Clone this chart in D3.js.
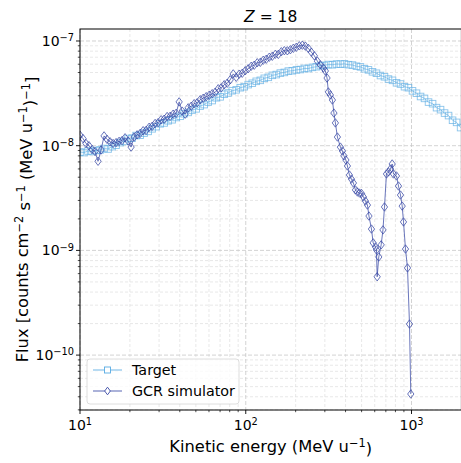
<!DOCTYPE html>
<html>
<head>
<meta charset="utf-8">
<script src="https://cdn.jsdelivr.net/npm/d3@7"></script>
<style>
  body { margin: 0; background: #fff; }
  text { font-family: "DejaVu Sans", sans-serif; fill: #000; }
</style>
</head>
<body>
<div id="chart"></div>
<script>
// energies in MeV/u, fluxes in counts cm^-2 s^-1 (MeV/u)^-1
let targetEnergy = [10.0, 10.57, 11.17, 11.82, 12.50, 13.21, 13.96, 14.77, 15.61, 16.50,
  17.45, 18.45, 19.50, 20.62, 21.80, 23.05, 24.37, 25.76, 27.23, 28.79,
  30.44, 32.18, 34.02, 35.97, 38.03, 40.21, 42.50, 44.94, 47.51, 50.22,
  53.10, 56.14, 59.35, 62.75, 66.34, 70.14, 74.15, 78.39, 82.88, 87.62,
  92.64, 97.95, 103.5, 109.5, 115.7, 122.4, 129.4, 136.8, 144.6, 152.9,
  161.6, 170.9, 180.7, 191.0, 202.0, 213.5, 225.7, 238.7, 252.3, 266.7,
  282.0, 298.2, 315.2, 333.3, 352.4, 372.6, 393.9, 416.4, 440.3, 465.4,
  492.1, 520.2, 549.9, 581.4, 614.6, 649.9, 687.0, 726.3, 767.9, 811.8,
  858.2, 907.3, 959.2, 1014, 1072, 1134, 1198, 1267, 1340, 1416,
  1497, 1583, 1673, 1769, 1871, 1978];
let targetFlux = [8.7e-9, 8.6e-9, 8.9e-9, 8.8e-9, 9.0e-9, 9.1e-9, 9.4e-9, 9.3e-9, 9.8e-9, 1.01e-8,
  1.07e-8, 1.10e-8, 1.17e-8, 1.18e-8, 1.25e-8, 1.26e-8, 1.32e-8, 1.37e-8, 1.45e-8, 1.52e-8,
  1.62e-8, 1.65e-8, 1.73e-8, 1.77e-8, 1.86e-8, 1.91e-8, 2.02e-8, 2.08e-8, 2.19e-8, 2.25e-8,
  2.39e-8, 2.47e-8, 2.61e-8, 2.70e-8, 2.87e-8, 2.93e-8, 3.10e-8, 3.19e-8, 3.35e-8, 3.42e-8,
  3.58e-8, 3.66e-8, 3.83e-8, 3.95e-8, 4.12e-8, 4.21e-8, 4.40e-8, 4.50e-8, 4.70e-8, 4.78e-8,
  4.94e-8, 5.01e-8, 5.16e-8, 5.20e-8, 5.30e-8, 5.34e-8, 5.47e-8, 5.46e-8, 5.60e-8, 5.68e-8,
  5.82e-8, 5.84e-8, 5.96e-8, 5.93e-8, 6.03e-8, 6.00e-8, 6.05e-8, 5.94e-8, 5.89e-8, 5.74e-8,
  5.66e-8, 5.43e-8, 5.30e-8, 5.08e-8, 4.92e-8, 4.68e-8, 4.55e-8, 4.33e-8, 4.21e-8, 3.99e-8,
  3.88e-8, 3.66e-8, 3.58e-8, 3.34e-8, 3.17e-8, 2.95e-8, 2.83e-8, 2.61e-8, 2.52e-8, 2.31e-8,
  2.21e-8, 2.05e-8, 1.94e-8, 1.75e-8, 1.67e-8, 1.49e-8];

let gcrEnergy = [10.00, 10.43, 10.87, 11.33, 11.82, 12.32, 12.85, 13.40, 13.97, 14.56,
  15.18, 15.83, 16.50, 17.21, 17.94, 18.70, 19.50, 20.33, 21.20, 22.10,
  23.04, 24.03, 25.05, 26.12, 27.23, 28.39, 29.60, 30.86, 32.18, 33.55,
  34.98, 36.47, 38.02, 39.64, 41.33, 43.09, 44.93, 46.85, 48.84, 50.92,
  53.10, 55.36, 57.72, 60.18, 62.74, 65.42, 68.20, 71.11, 74.14, 77.30,
  80.59, 84.03, 87.61, 91.34, 95.24, 99.30, 103.5, 107.9, 112.5, 117.3,
  122.4, 127.6, 133.0, 138.7, 144.6, 150.8, 157.2, 163.9, 170.9, 178.2,
  185.8, 193.7, 201.9, 210.5, 219.5, 228.9, 238.6, 248.8, 259.4, 270.5,
  282.0, 293.9, 302.2, 309.4, 315.1, 324.0, 333.3, 340.3, 347.4, 357.3,
  372.4, 383.0, 391.0, 402.0, 410.6, 422.2, 434.2, 446.3, 458.9, 471.9,
  485.2, 498.9, 512.9, 527.4, 542.3, 553.8, 573.3, 587.1, 606.1, 614.6,
  620.6, 634.6, 656.1, 672.7, 686.9, 706.2, 726.1, 746.6, 764.5, 778.4,
  811.7, 834.6, 858.1, 878.7, 894.8, 919.9, 945.9, 972.5, 990];
let gcrFlux = [1.26e-8, 1.17e-8, 1.05e-8, 1.00e-8, 9.2e-9, 8.8e-9, 7.1e-9, 9.1e-9, 1.24e-8, 1.15e-8,
  1.09e-8, 1.05e-8, 1.07e-8, 1.10e-8, 1.12e-8, 1.19e-8, 1.11e-8, 9.7e-9, 1.21e-8, 1.27e-8,
  1.31e-8, 1.39e-8, 1.40e-8, 1.50e-8, 1.53e-8, 1.63e-8, 1.66e-8, 1.77e-8, 1.79e-8, 1.90e-8,
  1.91e-8, 2.00e-8, 2.04e-8, 2.62e-8, 2.14e-8, 2.00e-8, 2.30e-8, 2.38e-8, 2.52e-8, 2.57e-8,
  2.75e-8, 2.84e-8, 2.94e-8, 3.03e-8, 3.14e-8, 3.24e-8, 3.50e-8, 3.57e-8, 3.82e-8, 3.95e-8,
  4.26e-8, 4.85e-8, 4.50e-8, 4.82e-8, 4.92e-8, 5.20e-8, 5.43e-8, 5.74e-8, 5.87e-8, 6.20e-8,
  6.26e-8, 6.55e-8, 6.70e-8, 7.00e-8, 7.15e-8, 7.47e-8, 7.45e-8, 7.90e-8, 8.08e-8, 8.06e-8,
  8.25e-8, 8.52e-8, 8.72e-8, 8.99e-8, 9.12e-8, 8.93e-8, 8.50e-8, 7.82e-8, 7.22e-8, 6.42e-8,
  5.92e-8, 5.52e-8, 5.17e-8, 4.43e-8, 3.26e-8, 3.05e-8, 2.73e-8, 2.05e-8, 1.65e-8, 1.21e-8,
  9.7e-9, 8.9e-9, 8.0e-9, 7.3e-9, 6.4e-9, 5.25e-9, 4.8e-9, 4.4e-9, 3.78e-9, 3.61e-9,
  3.53e-9, 3.50e-9, 3.24e-9, 2.96e-9, 2.71e-9, 2.13e-9, 1.60e-9, 1.18e-9, 1.08e-9, 1.01e-9,
  5.6e-10, 8.65e-10, 1.13e-9, 1.57e-9, 2.60e-9, 5.37e-9, 5.61e-9, 5.99e-9, 6.69e-9, 5.37e-9,
  5.14e-9, 4.12e-9, 3.38e-9, 2.65e-9, 1.87e-9, 1.03e-9, 6.8e-10, 1.98e-10, 4.25e-11];

let seriesNames = ["Target", "GCR simulator"];
let xMajor = [10, 100, 1000];
let yMajor = [1e-10, 1e-9, 1e-8, 1e-7];

let width = 461;
let height = 463;
let plotLeft = 80, plotRight = 461.4, plotTop = 29, plotBottom = 410;

let targetColor = "#58abe3";
let gcrColor = "#3a4aa6";

let svg = d3.select("#chart")
    .append("svg")
    .attr("width", width)
    .attr("height", height);

let x = d3.scaleLog().domain([10, 2000]).range([plotLeft, plotRight]);
let y = d3.scaleLog().domain([2.99e-11, 1.302e-7]).range([plotBottom, plotTop]);

// minor tick values for log axes
function minorTicks(lo, hi) {
    let out = [];
    for (let p = Math.floor(Math.log10(lo)); p <= Math.ceil(Math.log10(hi)); p++) {
        for (let m = 2; m <= 9; m++) {
            let v = m * Math.pow(10, p);
            if (v >= lo && v <= hi) out.push(v);
        }
    }
    return out;
}
let xMinor = minorTicks(10, 2000);
let yMinor = minorTicks(2.99e-11, 1.302e-7);

// grid
let grid = svg.append("g");
grid.selectAll(".xm").data(xMinor).enter().append("line")
    .attr("x1", d => x(d)).attr("x2", d => x(d))
    .attr("y1", plotTop).attr("y2", plotBottom)
    .style("stroke", "#dedede").style("stroke-width", 0.7).style("stroke-dasharray", "3,2");
grid.selectAll(".ym").data(yMinor).enter().append("line")
    .attr("x1", plotLeft).attr("x2", plotRight)
    .attr("y1", d => y(d)).attr("y2", d => y(d))
    .style("stroke", "#dedede").style("stroke-width", 0.7).style("stroke-dasharray", "3,2");
grid.selectAll(".xM").data(xMajor).enter().append("line")
    .attr("x1", d => x(d)).attr("x2", d => x(d))
    .attr("y1", plotTop).attr("y2", plotBottom)
    .style("stroke", "#c8c8c8").style("stroke-width", 0.8).style("stroke-dasharray", "4,2");
grid.selectAll(".yM").data(yMajor).enter().append("line")
    .attr("x1", plotLeft).attr("x2", plotRight)
    .attr("y1", d => y(d)).attr("y2", d => y(d))
    .style("stroke", "#c8c8c8").style("stroke-width", 0.8).style("stroke-dasharray", "4,2");

svg.append("clipPath").attr("id", "clip")
    .append("rect").attr("x", plotLeft).attr("y", plotTop)
    .attr("width", plotRight - plotLeft).attr("height", plotBottom - plotTop);

let plot = svg.append("g").attr("clip-path", "url(#clip)");

let targetData = targetEnergy.map((e, i) => ({e: e, f: targetFlux[i]}));
let gcrData = gcrEnergy.map((e, i) => ({e: e, f: gcrFlux[i]}));

let line = d3.line().x(d => x(d.e)).y(d => y(d.f));

function diamond(cx, cy, r) {
    return "M" + cx + "," + (cy - r) + "L" + (cx + r * 0.75) + "," + cy +
        "L" + cx + "," + (cy + r) + "L" + (cx - r * 0.75) + "," + cy + "Z";
}

// Target series
plot.append("path")
    .attr("d", line(targetData))
    .style("fill", "none").style("stroke", targetColor)
    .style("stroke-width", 1).style("opacity", 0.6);
plot.selectAll(".sq").data(targetData).enter().append("rect")
    .attr("x", d => x(d.e) - 3.3).attr("y", d => y(d.f) - 3.3)
    .attr("width", 6.6).attr("height", 6.6)
    .style("fill", "none").style("stroke", targetColor)
    .style("stroke-width", 0.9).style("opacity", 0.7);

// GCR simulator series
plot.append("path")
    .attr("d", line(gcrData))
    .style("fill", "none").style("stroke", gcrColor)
    .style("stroke-width", 1).style("opacity", 0.75);
plot.selectAll(".dm").data(gcrData).enter().append("path")
    .attr("d", d => diamond(x(d.e), y(d.f), 4.2))
    .style("fill", "none").style("stroke", gcrColor)
    .style("stroke-width", 0.9).style("opacity", 0.85);

// spines
svg.append("rect")
    .attr("x", plotLeft).attr("y", plotTop)
    .attr("width", plotRight - plotLeft).attr("height", plotBottom - plotTop)
    .style("fill", "none").style("stroke", "#000").style("stroke-width", 1);

// ticks
let ticks = svg.append("g");
ticks.selectAll(".xt").data(xMajor).enter().append("line")
    .attr("x1", d => x(d)).attr("x2", d => x(d))
    .attr("y1", plotBottom).attr("y2", plotBottom + 4)
    .style("stroke", "#000").style("stroke-width", 0.9);
ticks.selectAll(".xmt").data(xMinor).enter().append("line")
    .attr("x1", d => x(d)).attr("x2", d => x(d))
    .attr("y1", plotBottom).attr("y2", plotBottom + 2.2)
    .style("stroke", "#000").style("stroke-width", 0.7);
ticks.selectAll(".yt").data(yMajor).enter().append("line")
    .attr("x1", plotLeft - 4).attr("x2", plotLeft)
    .attr("y1", d => y(d)).attr("y2", d => y(d))
    .style("stroke", "#000").style("stroke-width", 0.9);
ticks.selectAll(".ymt").data(yMinor).enter().append("line")
    .attr("x1", plotLeft - 2.2).attr("x2", plotLeft)
    .attr("y1", d => y(d)).attr("y2", d => y(d))
    .style("stroke", "#000").style("stroke-width", 0.7);

function powLabel(sel, exp) {
    sel.append("tspan").text("10");
    sel.append("tspan").attr("dy", "-0.5em").style("font-size", "9.8px")
        .text(exp < 0 ? "\u2212" + (-exp) : String(exp));
}

xMajor.forEach(v => {
    let t = svg.append("text")
        .attr("x", x(v)).attr("y", plotBottom + 20)
        .attr("text-anchor", "middle")
        .style("font-size", "14px");
    powLabel(t, Math.round(Math.log10(v)));
});
yMajor.forEach(v => {
    let t = svg.append("text")
        .attr("x", plotLeft - 6).attr("y", y(v) + 5)
        .attr("text-anchor", "end")
        .style("font-size", "14px");
    powLabel(t, Math.round(Math.log10(v)));
});

// title
let title = svg.append("text")
    .attr("x", (plotLeft + plotRight) / 2).attr("y", 22)
    .attr("text-anchor", "middle").style("font-size", "15.5px");
title.append("tspan").style("font-style", "italic").text("Z");
title.append("tspan").text(" = 18");

// axis labels
let xl = svg.append("text")
    .attr("x", (plotLeft + plotRight) / 2).attr("y", 452)
    .attr("text-anchor", "middle").style("font-size", "16.3px");
xl.append("tspan").text("Kinetic energy (MeV u");
xl.append("tspan").attr("dy", "-0.45em").style("font-size", "11.4px").text("\u22121");
xl.append("tspan").attr("dy", "0.45em").text(")");

let yl = svg.append("text")
    .attr("transform", "translate(28," + ((plotTop + plotBottom) / 2) + ") rotate(-90)")
    .attr("text-anchor", "middle").style("font-size", "16.3px");
yl.append("tspan").text("Flux [counts cm");
yl.append("tspan").attr("dy", "-0.45em").style("font-size", "11.4px").text("\u22122");
yl.append("tspan").attr("dy", "0.45em").text(" s");
yl.append("tspan").attr("dy", "-0.45em").style("font-size", "11.4px").text("\u22121");
yl.append("tspan").attr("dy", "0.45em").text(" (MeV u");
yl.append("tspan").attr("dy", "-0.45em").style("font-size", "11.4px").text("\u22121");
yl.append("tspan").attr("dy", "0.45em").text(")");
yl.append("tspan").attr("dy", "-0.45em").style("font-size", "11.4px").text("\u22121");
yl.append("tspan").attr("dy", "0.45em").text("]");

// legend
let legend = svg.append("g");
legend.append("rect")
    .attr("x", 87).attr("y", 359).attr("width", 152).attr("height", 45).attr("rx", 3)
    .style("fill", "#fff").style("fill-opacity", 0.8)
    .style("stroke", "#d6d6d6").style("stroke-width", 0.8);
let legendItems = [
    {name: seriesNames[0], color: targetColor, shape: "square", y: 370},
    {name: seriesNames[1], color: gcrColor, shape: "diamond", y: 391}
];
legendItems.forEach(it => {
    legend.append("line")
        .attr("x1", 93).attr("x2", 122).attr("y1", it.y).attr("y2", it.y)
        .style("stroke", it.color).style("stroke-width", 1.2).style("opacity", 0.7);
    if (it.shape === "square") {
        legend.append("rect").attr("x", 104.5).attr("y", it.y - 3)
            .attr("width", 6).attr("height", 6)
            .style("fill", "#fff").style("stroke", it.color).style("stroke-width", 0.9);
    } else {
        legend.append("path")
            .attr("d", diamond(107.5, it.y, 3.8))
            .style("fill", "#fff").style("stroke", it.color).style("stroke-width", 0.9);
    }
    legend.append("text")
        .attr("x", 132).attr("y", it.y + 5)
        .style("font-size", "14.3px").text(it.name);
});
</script>
</body>
</html>
